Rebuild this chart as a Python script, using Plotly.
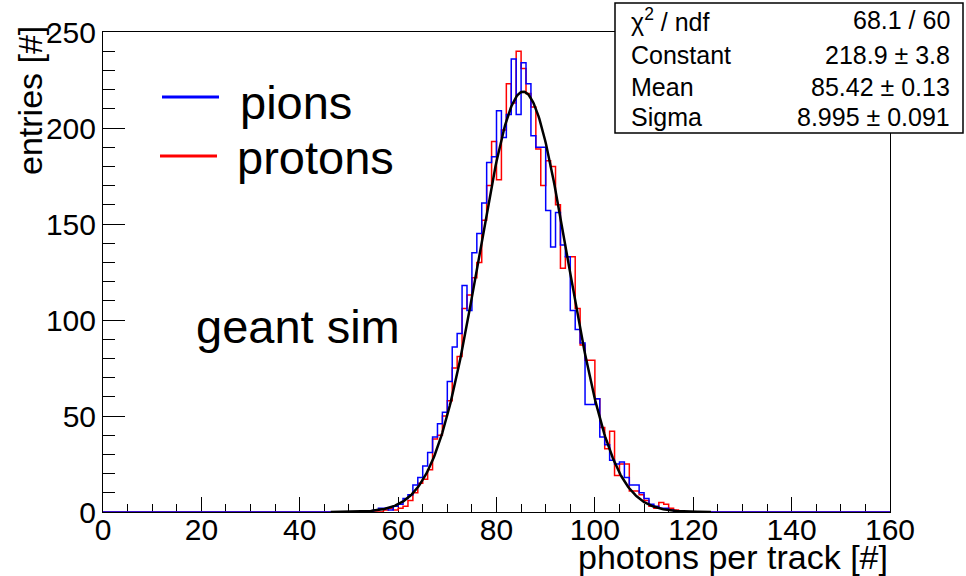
import numpy as np
import plotly.graph_objects as go

# ---------------- data ----------------
x_min, x_max = 0, 160          # histogram range, 1-unit bins
first_bin = 55                 # first bin listed below (all others are empty)

pion_counts = [1, 2, 2, 1, 3, 4, 7, 9, 14, 18,          # 55-64
               24, 31, 39, 46, 52, 68, 86, 93, 118, 105,  # 65-74
               135, 145, 161, 182, 185, 209, 195, 207, 236, 207,  # 75-84
               234, 223, 196, 190, 190, 157, 138, 156, 139, 133,  # 85-94
               105, 95, 88, 56, 56, 59, 39, 35, 27, 25,   # 95-104
               26, 18, 14, 14, 10, 7, 4, 3, 2, 2,         # 105-114
               1, 0, 0]                                   # 115-117

proton_counts = [0, 0, 1, 2, 1, 2, 3, 6, 10, 15,         # 55-64
                 17, 22, 38, 40, 50, 58, 75, 81, 106, 113,  # 65-74
                 122, 130, 152, 170, 193, 173, 199, 223, 213, 240,  # 75-84
                 231, 218, 211, 189, 170, 183, 180, 160, 127, 133,  # 85-94
                 133, 106, 87, 79, 79, 59, 44, 33, 42, 19,  # 95-104
                 25, 25, 11, 11, 9, 6, 3, 2, 5, 4,          # 105-114
                 2, 1, 0]                                   # 115-117

# Gaussian fit result (stats box)
fit_constant, fit_constant_err = 218.9, 3.8
fit_mean, fit_mean_err = 85.42, 0.13
fit_sigma, fit_sigma_err = 8.995, 0.091
chi2, ndf = 68.1, 60
fit_range = (46.3, 123.6)

x_ticks = [0, 20, 40, 60, 80, 100, 120, 140, 160]
y_ticks = [0, 50, 100, 150, 200, 250]

# ---------------- build ----------------
def full_hist(vals):
    h = np.zeros(x_max - x_min)
    h[first_bin - x_min: first_bin - x_min + len(vals)] = vals
    return h

edges = np.arange(x_min, x_max + 1)
pions = full_hist(pion_counts)
protons = full_hist(proton_counts)

def step(h):
    return edges, np.append(h, h[-1])

FONT = "Liberation Sans, Arial, Helvetica, sans-serif"

fig = go.Figure()
ex, ey = step(protons)
fig.add_trace(go.Scatter(x=ex, y=ey, mode="lines", line=dict(color="#ff0000", width=1.5, shape="hv"),
                         name="protons", showlegend=False, cliponaxis=False))
ex, ey = step(pions)
fig.add_trace(go.Scatter(x=ex, y=ey, mode="lines", line=dict(color="#0000ff", width=1.5, shape="hv"),
                         name="pions", showlegend=False, cliponaxis=False))

xf = np.linspace(fit_range[0], fit_range[1], 400)
yf = fit_constant * np.exp(-0.5 * ((xf - fit_mean) / fit_sigma) ** 2)
fig.add_trace(go.Scatter(x=xf, y=yf, mode="lines", line=dict(color="black", width=2.5),
                         name="fit", showlegend=False))

# pixel helpers (plot area: x 103..890, y 32..512)
L, R, T, B = 103, 890, 32, 512
def px(p):
    return (p - L) / (R - L)
def py(p):
    return (B - p) / (B - T)

shapes = []
annotations = []

# legend
shapes.append(dict(type="line", xref="paper", yref="paper", x0=px(162), x1=px(219), y0=py(97), y1=py(97),
                   line=dict(color="#0000ff", width=3)))
shapes.append(dict(type="line", xref="paper", yref="paper", x0=px(160), x1=px(217), y0=py(156), y1=py(156),
                   line=dict(color="#ff0000", width=3)))
annotations.append(dict(text="pions", xref="paper", yref="paper", x=px(238), y=py(102), xanchor="left",
                        yanchor="middle", showarrow=False, font=dict(family=FONT, size=47, color="black")))
annotations.append(dict(text="protons", xref="paper", yref="paper", x=px(235), y=py(158), xanchor="left",
                        yanchor="middle", showarrow=False, font=dict(family=FONT, size=47, color="black")))
annotations.append(dict(text="geant sim", xref="paper", yref="paper", x=px(194), y=py(326), xanchor="left",
                        yanchor="middle", showarrow=False, font=dict(family=FONT, size=47, color="black")))

# stats box
shapes.append(dict(type="rect", xref="paper", yref="paper", x0=px(615), x1=px(963), y0=py(133), y1=py(3),
                   fillcolor="white", line=dict(color="black", width=1.5), layer="above"))
rows = [
    ("\u03c7<sup>2</sup> / ndf", f"{chi2:.1f} / {ndf}", 20),
    ("Constant", f"{fit_constant:.1f} \u00b1 {fit_constant_err:.1f}", 55),
    ("Mean", f"{fit_mean:.2f} \u00b1 {fit_mean_err:.2f}", 87),
    ("Sigma", f"{fit_sigma:.3f} \u00b1 {fit_sigma_err:.3f}", 117),
]
for left, right, ypix in rows:
    annotations.append(dict(text=left, xref="paper", yref="paper", x=px(629), y=py(ypix), xanchor="left",
                            yanchor="middle", showarrow=False, font=dict(family=FONT, size=25, color="black")))
    annotations.append(dict(text=right, xref="paper", yref="paper", x=px(952), y=py(ypix), xanchor="right",
                            yanchor="middle", showarrow=False, font=dict(family=FONT, size=25, color="black")))

# axis titles
annotations.append(dict(text="photons per track [#]", xref="paper", yref="paper", x=px(890), y=py(557),
                        xanchor="right", yanchor="middle", showarrow=False,
                        font=dict(family=FONT, size=34, color="black")))
annotations.append(dict(text="entries [#]", xref="paper", yref="paper", x=px(30), y=py(101),
                        xanchor="center", yanchor="middle", textangle=-90, showarrow=False,
                        font=dict(family=FONT, size=34, color="black")))

fig.update_layout(
    width=966, height=576,
    margin=dict(l=L, r=966 - R, t=T, b=576 - B, pad=0),
    paper_bgcolor="white", plot_bgcolor="white",
    showlegend=False,
    shapes=shapes, annotations=annotations,
    font=dict(family=FONT, color="black"),
)
fig.update_xaxes(range=[x_min, x_max], tickvals=x_ticks, ticktext=[str(v) for v in x_ticks],
                 showline=True, linecolor="black", linewidth=1, mirror=True, layer="below traces",
                 ticks="inside", ticklen=15, tickwidth=1, tickcolor="black", ticklabelstandoff=-9,
                 minor=dict(ticks="inside", ticklen=8, dtick=5, tick0=0, tickcolor="black", tickwidth=1),
                 showgrid=False, zeroline=False, tickfont=dict(family=FONT, size=30, color="black"))
fig.update_yaxes(range=[0, 250], tickvals=y_ticks, ticktext=[str(v) for v in y_ticks],
                 showline=True, linecolor="black", linewidth=1, mirror=True, layer="below traces",
                 ticks="inside", ticklen=22, tickwidth=1, tickcolor="black",
                 minor=dict(ticks="inside", ticklen=12, dtick=10, tick0=0, tickcolor="black", tickwidth=1),
                 showgrid=False, zeroline=False, tickfont=dict(family=FONT, size=30, color="black"))

fig.write_html("out.html")
